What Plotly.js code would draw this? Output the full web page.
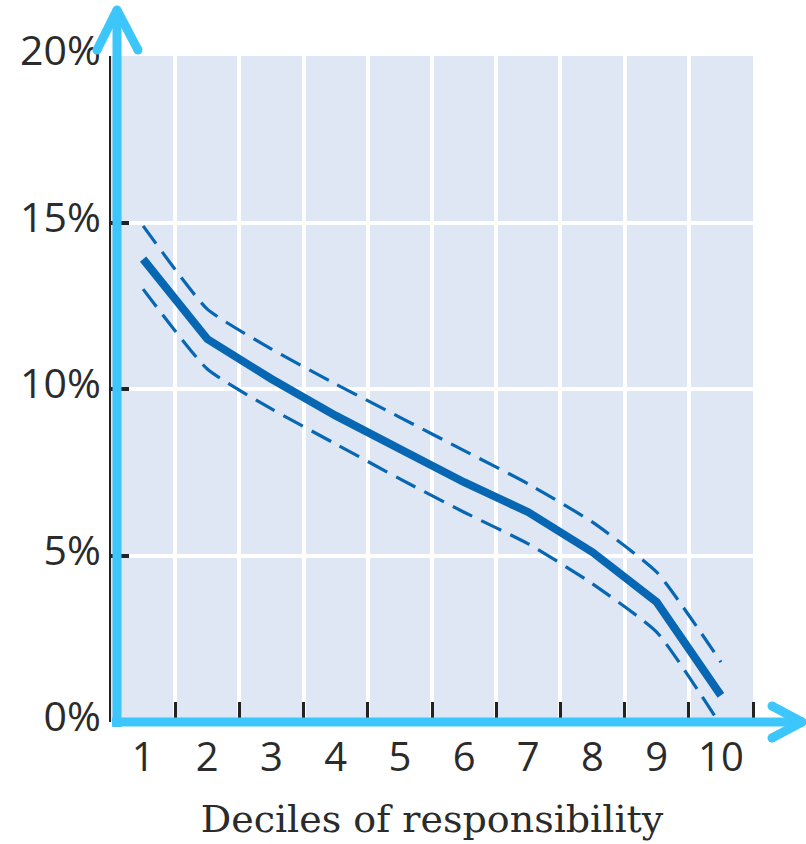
<!DOCTYPE html>
<html>
<head>
<meta charset="utf-8">
<script src="https://cdn.plot.ly/plotly-3.0.1.min.js"></script>
<style>
  html, body { margin: 0; padding: 0; background: #ffffff; }
  #chart { width: 806px; height: 844px; }
</style>
</head>
<body>
<div id="chart"></div>
<script>
// ---- data ----
const deciles = [1, 2, 3, 4, 5, 6, 7, 8, 9, 10];
const decileLabels = ['1', '2', '3', '4', '5', '6', '7', '8', '9', '10'];
const share = [13.9, 11.5, 10.3, 9.2, 8.2, 7.2, 6.3, 5.1, 3.6, 0.8];
const upper = [14.9, 12.4, 11.2, 10.15, 9.15, 8.15, 7.15, 6.0, 4.5, 1.8];
const lower = [13.0, 10.6, 9.4, 8.35, 7.3, 6.3, 5.35, 4.15, 2.7, -0.1];
const yTickVals = [0, 5, 10, 15, 20];
const yTickText = ['0%', '5%', '10%', '15%', '20%'];
const cellEdges = [1.5, 2.5, 3.5, 4.5, 5.5, 6.5, 7.5, 8.5, 9.5, 10.5];
const xTitle = 'Deciles of responsibility';

// ---- styling ----
const W = 806, H = 844;
const M = { l: 111, r: 53, t: 56, b: 122 };
const lineBlue = '#0767B2';
const arrowBlue = '#3DC6FC';
const ink = '#2b2b2b';

// pixel -> paper helpers for decorative arrows
const pw = W - M.l - M.r, ph = H - M.t - M.b;
const px = v => (v - M.l) / pw;
const py = v => (H - M.b - v) / ph;

const traces = [
  { x: deciles, y: upper, mode: 'lines', hoverinfo: 'skip',
    line: { color: lineBlue, width: 3.2, dash: '22px,10px', shape: 'spline', smoothing: 0.5 } },
  { x: deciles, y: lower, mode: 'lines', hoverinfo: 'skip',
    line: { color: lineBlue, width: 3.2, dash: '22px,10px', shape: 'spline', smoothing: 0.5 } },
  { x: deciles, y: share, mode: 'lines', hoverinfo: 'skip',
    line: { color: lineBlue, width: 8 } }
];

const aw = 9;
function seg(x0, y0, x1, y1) {
  return { type: 'line', xref: 'paper', yref: 'paper', layer: 'above',
    x0: px(x0), y0: py(y0), x1: px(x1), y1: py(y1),
    line: { color: arrowBlue, width: aw } };
}
function dot(x, y) {
  const r = aw / 2;
  return { type: 'circle', xref: 'paper', yref: 'paper', layer: 'above',
    x0: px(x - r), x1: px(x + r), y0: py(y + r), y1: py(y - r),
    fillcolor: arrowBlue, line: { width: 0 } };
}
const shapes = [
  // y arrow
  seg(117, 727, 117, 12),
  seg(97, 50, 117, 10), seg(117, 10, 138, 50),
  dot(97, 50), dot(138, 50), dot(117, 10),
  // x arrow
  seg(112, 722, 800, 722),
  seg(772, 706, 802, 722), seg(802, 722, 772, 738),
  dot(772, 706), dot(772, 738), dot(802, 722)
];

const layout = {
  width: W, height: H,
  margin: M,
  paper_bgcolor: '#ffffff',
  plot_bgcolor: '#DFE7F4',
  showlegend: false,
  xaxis: {
    range: [0.5, 10.5],
    tickmode: 'array', tickvals: deciles, ticktext: decileLabels,
    ticks: '', showgrid: false, zeroline: false, showline: false,
    ticklabelstandoff: 8,
    tickfont: { family: 'Open Sans', size: 40, color: ink },
    minor: {
      tickmode: 'array', tickvals: cellEdges,
      ticks: 'inside', ticklen: 20, tickwidth: 3, tickcolor: '#222',
      showgrid: true, gridcolor: '#ffffff', gridwidth: 4
    },
    title: { text: xTitle, standoff: 23,
      font: { family: 'DejaVu Serif', size: 38, color: ink } },
    fixedrange: true
  },
  yaxis: {
    range: [0, 20],
    tickmode: 'array', tickvals: yTickVals, ticktext: yTickText,
    ticks: 'inside', ticklen: 18, tickwidth: 4, tickcolor: '#222',
    showgrid: true, gridcolor: '#ffffff', gridwidth: 4,
    zeroline: false,
    showline: true, linecolor: '#222', linewidth: 2,
    ticklabelstandoff: 0,
    ticklabelshift: -5,
    tickfont: { family: 'Open Sans', size: 41, color: ink },
    fixedrange: true
  },
  shapes: shapes
};

Plotly.newPlot('chart', traces, layout, { displayModeBar: false, staticPlot: true });
</script>
</body>
</html>
